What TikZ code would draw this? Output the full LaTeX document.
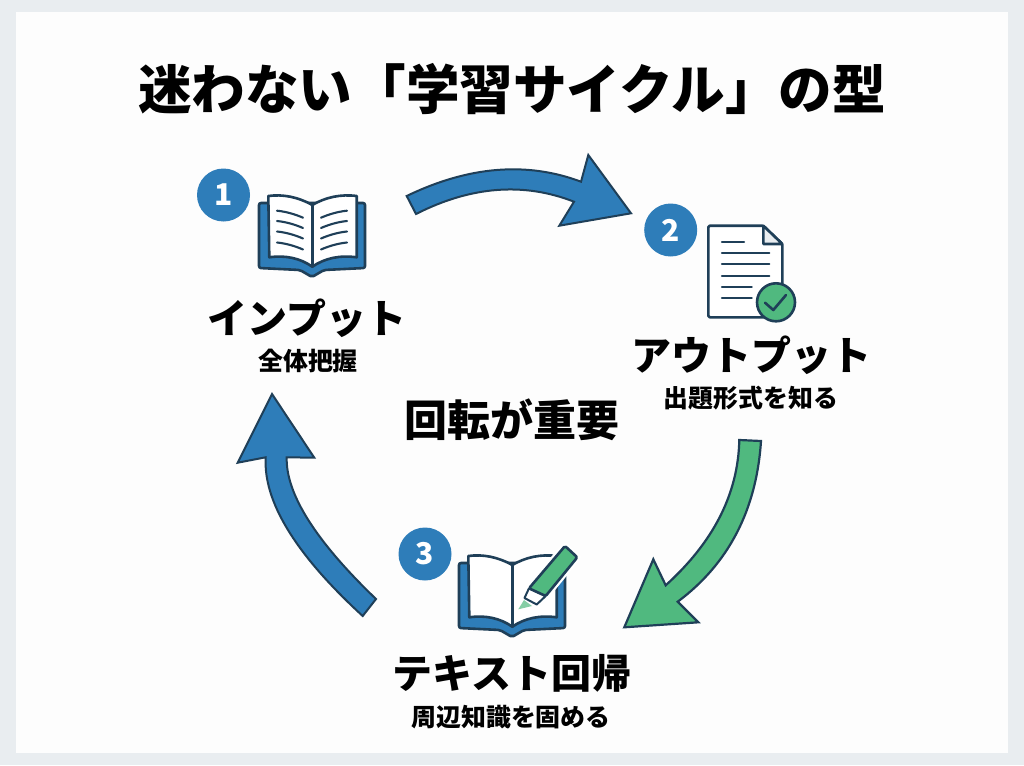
\documentclass[tikz,border=0pt]{standalone}
\usepackage{fontspec}
\setmainfont{Noto Sans CJK JP}
\newfontfamily\heavyFont{Noto Sans CJK JP Black}
\definecolor{pageGray}{HTML}{E9EDF0}
\definecolor{cardWhite}{HTML}{FDFDFD}
\definecolor{cycleBlue}{HTML}{2E7DB9}
\definecolor{cycleGreen}{HTML}{50B97F}
\definecolor{inkDark}{HTML}{1F3F58}
\tikzstyle{titleText}=[font=\heavyFont\fontsize{53.6}{54}\selectfont, inner sep=0pt]
\tikzstyle{stepText}=[font=\heavyFont\fontsize{40}{40}\selectfont, inner sep=0pt]
\tikzstyle{centerText}=[font=\heavyFont\fontsize{43}{43}\selectfont, inner sep=0pt]
\tikzstyle{subText}=[font=\bfseries\fontsize{24.9}{25}\selectfont, inner sep=0pt]
\tikzstyle{badge}=[circle, fill=cycleBlue, text=white, minimum size=53pt, inner sep=0pt, font=\bfseries\fontsize{30}{30}\selectfont]
\tikzstyle{blueArrow}=[fill=cycleBlue, draw=inkDark, line width=2pt, line join=miter]
\tikzstyle{greenArrow}=[fill=cycleGreen, draw=inkDark, line width=2.2pt, line join=miter]
\tikzstyle{iconLine}=[draw=inkDark, line width=2.6pt, line cap=round, line join=round]
\newcommand{\openBook}{
    \draw[iconLine, fill=cycleBlue, rounded corners=2pt] (259,203) -- (259,268) -- (300,270) -- (312,277) -- (324,270) -- (365,268) -- (365,203) -- cycle;
    \draw[iconLine, fill=white] (312.3,205) .. controls (298,197) and (283,194) .. (268.3,196) -- (269.3,257.3) .. controls (285,255) and (300,258) .. (312.3,266.7) .. controls (325,258) and (340,255) .. (356.7,257.3) -- (356.7,196) .. controls (341,194) and (326,197) .. (312.3,205) -- cycle;
    \draw[iconLine] (312.3,205) -- (312.3,266.7);
}
\begin{document}
\begin{tikzpicture}[x=1pt, y=-1pt]
    \useasboundingbox (0,0) rectangle (1024,765);
    \fill[pageGray] (0,0) rectangle (1024,765);
    \fill[cardWhite] (16,12) rectangle (1008,753);

    \node[titleText] (title) at (512,89) {迷わない「学習サイクル」の型};
    \node[centerText] (center) at (512,420) {回転が重要};

    % Step 1
    \openBook
    \foreach \y in {210.7,221,231.5,242.5} {
        \draw[iconLine, line width=2.1pt] (277,\y) .. controls (287,\y+1) and (296,\y+4) .. (303,\y+7);
        \draw[iconLine, line width=2.1pt] (347,\y) .. controls (337,\y+1) and (328,\y+4) .. (321,\y+7);
    }
    \node[badge] (badge1) at (223.5,195) {1};
    \node[stepText] (input) at (307,318) {インプット};
    \node[subText] (inputSub) at (308,361) {全体把握};

    % Step 2
    \draw[iconLine, fill=white, rounded corners=1.5pt] (708.3,225.7) -- (763.3,225.7) -- (782.3,244) -- (782.3,317.3) -- (708.3,317.3) -- cycle;
    \draw[iconLine, fill=pageGray] (763.3,225.7) -- (763.3,244) -- (782.3,244) -- cycle;
    \foreach \y/\xend in {242/744, 253.3/769.3, 264.3/769.3, 275.7/769.3, 286.7/751.7, 298/751.7} {
        \draw[iconLine, line width=2.2pt] (722,\y) -- (\xend,\y);
    }
    \node[circle, fill=cycleGreen, draw=inkDark, line width=2.6pt, minimum size=38pt, inner sep=0pt] (checkMark) at (776,302.3) {};
    \draw[iconLine] (765,302.7) -- (773.3,310) -- (786,295);
    \node[badge] (badge2) at (670.7,230) {2};
    \node[stepText] (output) at (751,355) {アウトプット};
    \node[subText] (outputSub) at (751,398) {出題形式を知る};

    % Step 3
    \begin{scope}[shift={(200,360)}]
        \openBook
    \end{scope}
    \draw[white, line width=7pt, line join=round] (565,546) -- (577.3,557.3) -- (545.7,596) -- (537,604) -- (518.3,609.3) -- (529,588.3) -- cycle;
    \fill[cycleGreen!70] (524,600) -- (518.3,609.3) -- (532,606) -- cycle;
    \draw[iconLine, fill=white, line width=2pt] (529,588.3) -- (524.5,598) -- (536.7,604.5) -- (545.7,596) -- cycle;
    \draw[iconLine, fill=cycleGreen, rounded corners=1.5pt] (565,546) -- (577.3,557.3) -- (545.7,596) -- (529,588.3) -- cycle;
    \node[badge] (badge3) at (425,554) {3};
    \node[stepText] (textBack) at (512,673) {テキスト回帰};
    \node[subText] (textBackSub) at (511,717) {周辺知識を固める};

    % Arrows
    \coordinate (tipA) at (631,213.3);
    \coordinate (tipB) at (624.3,627.3);
    \coordinate (tipC) at (272,394);
    \draw[blueArrow] (406.7,196) .. controls (468.6,166.1) and (526.7,161.3) .. (581,181.7) -- (588.3,155) -- (tipA) -- (559.3,225.7) -- (574,201.7) .. controls (523.6,182) and (471,186.1) .. (416,214) -- cycle;
    \draw[greenArrow] (739.3,440) -- (761,441) .. controls (756.4,510.1) and (728.6,563.7) .. (677.7,601.7) -- (698.3,622.3) -- (tipB) -- (653.3,559.3) -- (665.7,585.3) .. controls (713.6,541.9) and (738.1,493.8) .. (739.3,440) -- cycle;
    \draw[blueArrow] (376,599) .. controls (315.5,540.9) and (285.7,493.6) .. (286.7,457.3) -- (314.3,457.7) -- (tipC) -- (237.7,462.7) -- (265.7,457.3) .. controls (263.1,501.3) and (295.4,554.2) .. (362.7,616) -- cycle;
\end{tikzpicture}
\end{document}
